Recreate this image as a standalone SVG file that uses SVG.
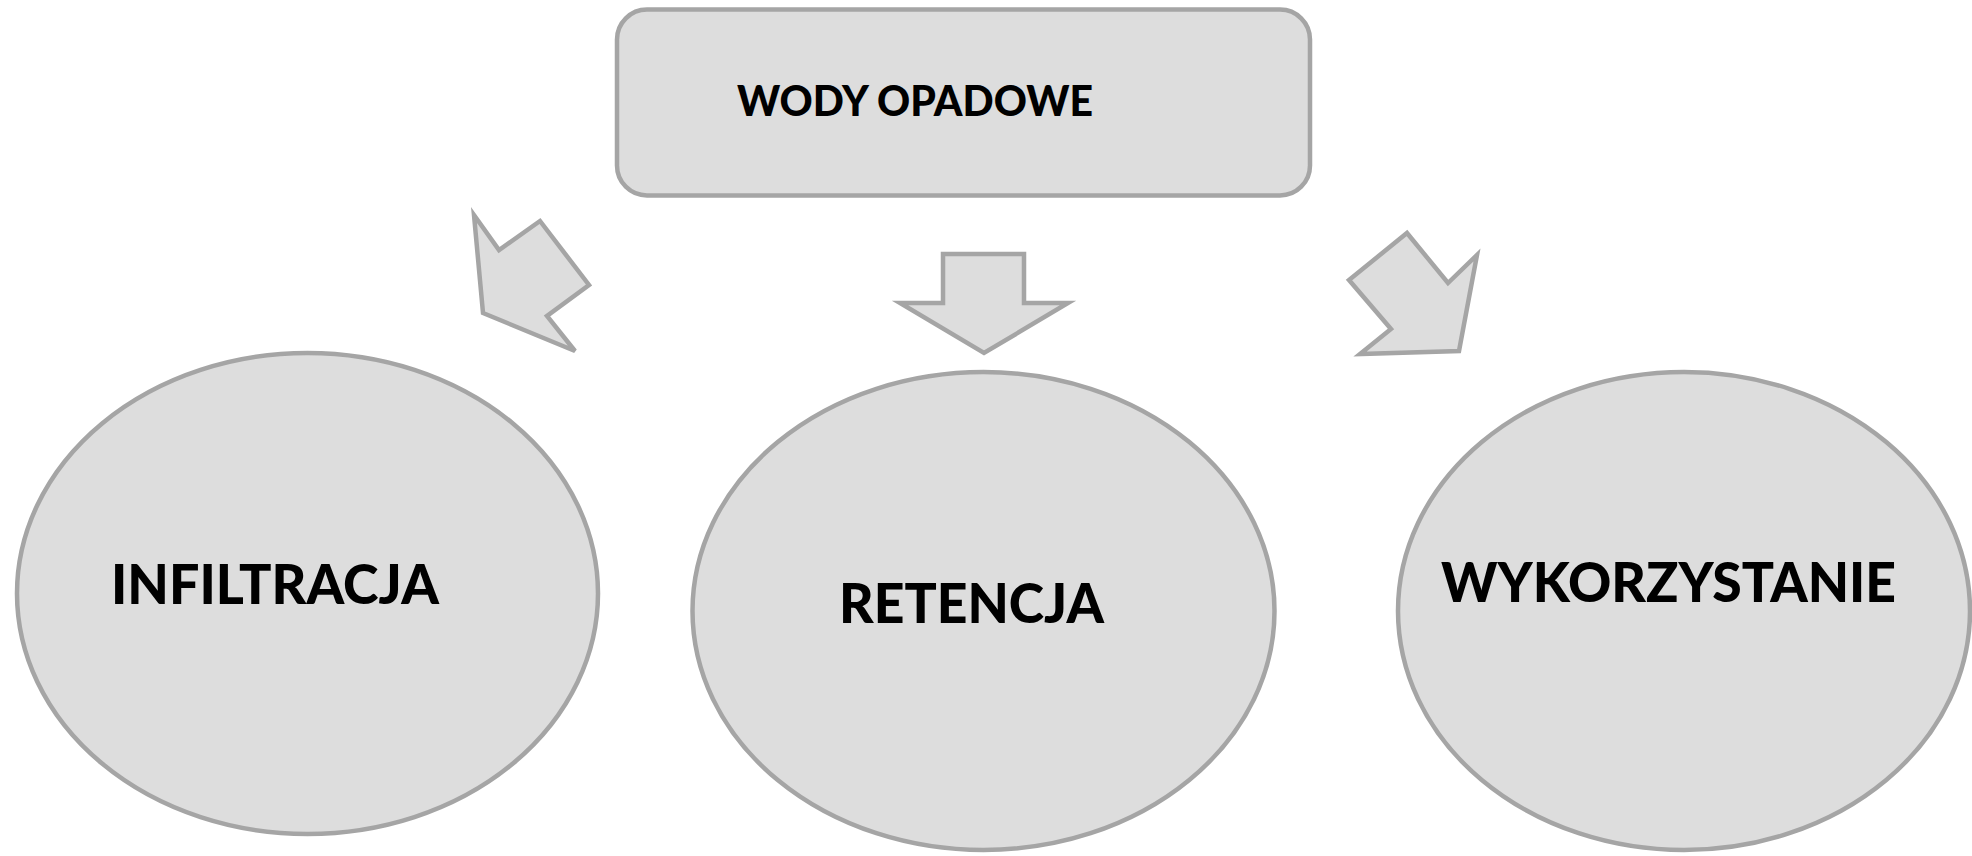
<svg xmlns="http://www.w3.org/2000/svg" width="1972" height="856" viewBox="0 0 1972 856">
  <style>
    .shape { fill: #dddddd; stroke: #a5a5a5; stroke-width: 4.5; stroke-linejoin: miter; }
    .lbl { font-family: Lato, "Open Sans", "Liberation Sans", sans-serif; font-weight: 900; fill: #000000; }
  </style>
  <rect width="1972" height="856" fill="#ffffff"/>
  <g id="node-wody-opadowe">
    <rect class="shape" x="617" y="9.5" width="693" height="186" rx="30" ry="30"/>
    <text class="lbl" x="737" y="116" font-size="42" textLength="356" lengthAdjust="spacingAndGlyphs">WODY OPADOWE</text>
  </g>
  <g id="node-infiltracja">
    <ellipse class="shape" cx="307.5" cy="593.5" rx="290.5" ry="240.5"/>
    <text class="lbl" x="111" y="604" font-size="56" textLength="328" lengthAdjust="spacingAndGlyphs">INFILTRACJA</text>
  </g>
  <g id="node-retencja">
    <ellipse class="shape" cx="983.5" cy="611" rx="291" ry="239"/>
    <text class="lbl" x="839" y="623" font-size="56" textLength="265" lengthAdjust="spacingAndGlyphs">RETENCJA</text>
  </g>
  <g id="node-wykorzystanie">
    <ellipse class="shape" cx="1684" cy="611" rx="286" ry="239"/>
    <text class="lbl" x="1441" y="602" font-size="56" textLength="455" lengthAdjust="spacingAndGlyphs">WYKORZYSTANIE</text>
  </g>
  <g id="connectors">
    <polygon class="shape" points="474,215 499,250 540,221 589,285 547,316 575,351 483,313"/>
    <polygon class="shape" points="943,254 1024,254 1024,303 1068,303 984,353 900,303 943,303"/>
    <polygon class="shape" points="1407,233 1448,283 1477,255 1459,351 1360,354 1391,329 1349,280"/>
  </g>
</svg>
